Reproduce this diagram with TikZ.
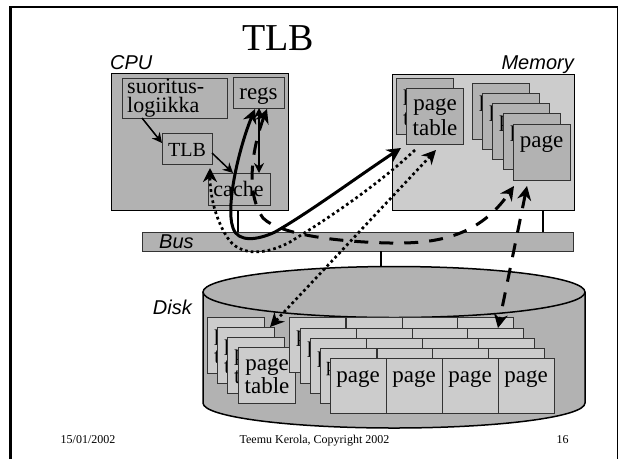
\documentclass[tikz,border=0pt]{standalone}
\usepackage{fontspec}
\setmainfont{Liberation Serif}
\setsansfont{Liberation Sans}
\usetikzlibrary{arrows.meta,shapes.geometric}
\definecolor{darkfill}{gray}{0.70}
\definecolor{lightfill}{gray}{0.80}
\tikzset{
  x=1pt,y=-1pt,
  boxbase/.style={draw=black!80,line width=0.9pt,inner sep=0pt,anchor=north west},
  darkbox/.style={boxbase,fill=darkfill},
  lightbox/.style={boxbase,fill=lightfill},
  lab/.style={font=\fontsize{23}{23}\selectfont,inner sep=0pt,anchor=base},
  frag/.style={lab,anchor=base west},
  sans/.style={font=\sffamily\itshape\fontsize{20}{22}\selectfont,inner sep=0pt,anchor=base west},
  foot/.style={font=\fontsize{12}{14}\selectfont,inner sep=0pt,anchor=base},
  thinarrow/.style={line width=1.5pt,{Stealth[length=10pt,width=10pt]}-{Stealth[length=10pt,width=10pt]}},
  thinone/.style={line width=1.5pt,-{Stealth[length=10pt,width=10pt]}},
  link/.style={line width=1.6pt},
  bigtip/.style={{Stealth[length=14pt,width=14pt]}-{Stealth[length=14pt,width=14pt]}},
  solidline/.style={line width=3pt},
  dotline/.style={line width=2.7pt,dash pattern=on 2.7pt off 3pt},
  dashline/.style={line width=3pt,dash pattern=on 14pt off 11pt},
}
\begin{document}
\begin{tikzpicture}
\useasboundingbox (0,0) rectangle (618,459);
\fill[white] (0,0) rectangle (618,459);
\coordinate (fbl) at (10.5,459);
\coordinate (ftl) at (10.5,7);
\coordinate (ftr) at (617,7);
\coordinate (fbr) at (617,459);
\draw[line width=3pt] (fbl) -- (ftl);
\draw[line width=2.5pt,line cap=rect] (ftl) -- (ftr);
\draw[line width=1pt] (ftr) -- (fbr);
\node[inner sep=0pt,font=\fontsize{38}{40}\selectfont,anchor=base] (title) at (278,50) {TLB};
% bus
\node[darkbox,minimum width=431pt,minimum height=19pt] (bus) at (142,232) {};
\node[sans] (buslab) at (159,248) {Bus};
% links
\coordinate (cpubus) at (238,232);
\coordinate (cpuup) at (238,205);
\coordinate (membus) at (543,232);
\coordinate (memdown) at (543,210);
\coordinate (diskbus) at (381,251);
\coordinate (diskup) at (381,267);
\draw[link] (cpuup) -- (cpubus);
\draw[link] (memdown) -- (membus);
\draw[link] (diskbus) -- (diskup);
% CPU
\node[darkbox,draw=black,line width=1.3pt,minimum width=177pt,minimum height=137pt] (cpu) at (111,73) {};
\node[sans] (cpulab) at (110,69) {CPU};
\node[darkbox,minimum width=105pt,minimum height=40pt] (exec) at (122,78) {};
\node[lab,anchor=base west,font=\fontsize{22}{22}\selectfont] (execa) at (127,93) {suoritus-};
\node[lab,anchor=base west,font=\fontsize{22}{22}\selectfont] (execb) at (127,112) {logiikka};
\node[darkbox,minimum width=51pt,minimum height=31pt] (regs) at (233,77) {};
\node[lab] (regslab) at (258.5,99) {regs};
\node[darkbox,minimum width=50pt,minimum height=31pt] (tlb) at (162,133) {};
\node[lab,font=\fontsize{20}{20}\selectfont] (tlblab) at (187,156.5) {TLB};
\node[darkbox,minimum width=62pt,minimum height=32pt] (cache) at (208,173) {};
\node[lab,font=\fontsize{22}{22}\selectfont] (cachelab) at (238.5,196) {cache};
\coordinate (ea) at (142,118);
\coordinate (eb) at (162,143);
\coordinate (ta) at (212,153);
\coordinate (tb) at (233,173);
\coordinate (ra) at (259,108);
\coordinate (rb) at (259,173);
\draw[thinone] (ea) -- (eb);
\draw[thinone] (ta) -- (tb);
\draw[thinarrow] (ra) -- (rb);
% Memory
\node[lightbox,draw=black,line width=1.3pt,minimum width=182pt,minimum height=136pt] (mem) at (392,74) {};
\node[sans,anchor=base east] (memlab) at (574,69) {Memory};
\node[darkbox,minimum width=57pt,minimum height=56pt] (mpt1) at (396,78) {};
\node[frag] at (403,100) {p};
\node[frag] at (403,125) {t};
\node[darkbox,minimum width=57pt,minimum height=56pt] (mpt2) at (406,88) {};
\node[lab] (mptp) at (435,110) {page};
\node[lab] (mptt) at (435,135) {table};
\foreach \n/\x/\y in {m1/472/83,m2/482/93,m3/492/103,m4/503/113}{
  \node[darkbox,minimum width=57pt,minimum height=56pt] (\n) at (\x,\y) {};
  \node[frag] at (\x+7,\y+23) {p};
}
\node[darkbox,minimum width=57pt,minimum height=56pt] (m5) at (513,124) {};
\node[lab] (m5lab) at (541.5,147) {page};
% Disk
\draw[line width=1.5pt,fill=darkfill] (203,292) -- (203,403) arc[start angle=180,end angle=0,x radius=191,y radius=25] -- (585,292);
\node[draw=black,line width=1.5pt,fill=darkfill,ellipse,inner sep=0pt,minimum width=382pt,minimum height=51pt] (disktop) at (394,292) {};
\node[sans,anchor=base east] (disklab) at (192,314) {Disk};
\foreach \n/\x/\y in {d1/207/317,d2/217/327,d3/227/337}{
  \node[lightbox,minimum width=57pt,minimum height=56pt] (\n) at (\x,\y) {};
  \node[frag] at (\x+7,\y+23) {p};
  \node[frag] at (\x+7,\y+46) {t};
}
\node[lightbox,minimum width=57pt,minimum height=56pt] (d4) at (238,347) {};
\node[lab] (d4p) at (267,370) {page};
\node[lab] (d4t) at (267,393) {table};
\foreach \x/\y/\first in {289/317/1,346/317/0,402/317/0,457/317/0,
                   300/328/1,356/328/0,412/328/0,467/328/0,
                   310/338/1,366/338/0,422/338/0,478/338/0,
                   320/348/0,377/348/0,432/348/0,488/348/0}{
  \node[lightbox,minimum width=56pt,minimum height=55pt] at (\x,\y) {};
  \ifnum\first=1 \node[frag] at (\x+7,\y+24) {p}; \fi
}
\node[frag,font=\fontsize{20}{20}\selectfont] at (326,371) {p};
\foreach \n/\x in {p1/330,p2/386,p3/442,p4/498}{
  \node[lightbox,minimum width=56pt,minimum height=55pt] (\n) at (\x,358) {};
  \node[lab] at (\x+28,382) {page};
}
% Named connector ends
\coordinate (aregsL) at (255,109);
\coordinate (aregsR) at (267,109);
\coordinate (atlb) at (210,168);
\coordinate (apt1) at (401,148);
\coordinate (apt2) at (436,150);
\coordinate (aptend) at (415,150);
\coordinate (apage1) at (514,186);
\coordinate (apage2) at (527,186);
\coordinate (adisk1) at (270,327);
\coordinate (adisk2) at (498,328);
% Dashed curve
\draw[dashline,bigtip] (aregsR) .. controls (255,140) and (243,190) .. (263,218)
   .. controls (280,235) and (340,242) .. (390,243)
   .. controls (440,244) and (480,235) .. (apage1);
% Dashed straight
\draw[dashline,bigtip] (apage2) -- (adisk2);
% Dotted straight
\draw[dotline,bigtip] (apt2) -- (adisk1);
% Dotted curve
\draw[dotline,-{Stealth[length=14pt,width=14pt]}] (aptend) .. controls (385,178) and (345,208) .. (290,242)
   .. controls (268,254) and (240,258) .. (227,237)
   .. controls (215,218) and (210,195) .. (atlb);
% Solid curve
\draw[solidline,bigtip] (aregsL) .. controls (240,145) and (225,205) .. (233,228)
   .. controls (238,243) and (258,240) .. (275,232)
   .. controls (310,212) and (360,175) .. (apt1);
% Footer
\node[foot] (fdate) at (88,443) {15/01/2002};
\node[foot] (fmid) at (314.5,443) {Teemu Kerola, Copyright 2002};
\node[foot] (fnum) at (562.5,443) {16};
\end{tikzpicture}
\end{document}
